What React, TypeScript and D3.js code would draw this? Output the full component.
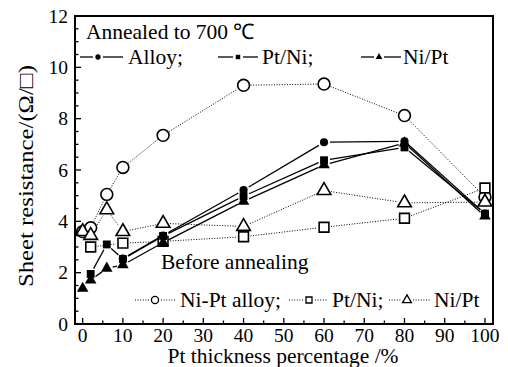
import React from 'react';
import * as d3 from 'd3';

// Before annealing (open markers, dotted lines)
const alloyBeforeX = [0, 2, 6, 10, 20, 40, 60, 80, 100];
const alloyBeforeY = [3.6, 3.75, 5.05, 6.1, 7.35, 9.3, 9.35, 8.12, 4.95];
const ptNiBeforeX = [2, 10, 20, 40, 60, 80, 100];
const ptNiBeforeY = [3.0, 3.15, 3.22, 3.4, 3.77, 4.12, 5.3];
const niPtBeforeX = [0, 2, 6, 10, 20, 40, 60, 80, 100];
const niPtBeforeY = [3.6, 3.45, 4.45, 3.6, 3.92, 3.8, 5.2, 4.72, 4.75];

// Annealed to 700 C (filled markers, solid lines)
const alloyAnnealX = [10, 20, 40, 60, 80, 100];
const alloyAnnealY = [2.55, 3.45, 5.22, 7.08, 7.12, 4.3];
const ptNiAnnealX = [2, 6, 10, 20, 40, 60, 80, 100];
const ptNiAnnealY = [1.95, 3.1, 2.53, 3.43, 4.98, 6.38, 6.88, 4.3];
const niPtAnnealX = [0, 2, 6, 10, 20, 40, 60, 80, 100];
const niPtAnnealY = [1.39, 1.71, 2.17, 2.3, 3.17, 4.78, 6.2, 7.05, 4.2];

const xTicks = [0, 10, 20, 30, 40, 50, 60, 70, 80, 90, 100];
const yTicks = [0, 2, 4, 6, 8, 10, 12];

const FONT = 'Liberation Serif';
const W = 508, H = 367;
const margin = { top: 16, right: 15, bottom: 43, left: 75 };

const x = d3.scaleLinear().domain([-1.9, 102]).range([margin.left, W - margin.right]);
const y = d3.scaleLinear().domain([0, 12]).range([H - margin.bottom, margin.top]);
const x0 = margin.left, x1 = W - margin.right, y0 = H - margin.bottom, y1 = margin.top;

const sym = (type: d3.SymbolType, size: number) => d3.symbol().type(type).size(size)()!;
const shapes = {
  circle: { open: sym(d3.symbolCircle, 110), filled: sym(d3.symbolCircle, 52), lOpen: sym(d3.symbolCircle, 40), lFilled: sym(d3.symbolCircle, 22) },
  square: { open: sym(d3.symbolSquare, 95), filled: sym(d3.symbolSquare, 62), lOpen: sym(d3.symbolSquare, 36), lFilled: sym(d3.symbolSquare, 20) },
  triangle: { open: sym(d3.symbolTriangle, 80), filled: sym(d3.symbolTriangle, 58), lOpen: sym(d3.symbolTriangle, 34), lFilled: sym(d3.symbolTriangle, 20) },
};

// line segments that stop short of the markers
const segments = (pts: [number, number][], gap: number) => {
  const out: [number, number, number, number][] = [];
  for (let i = 0; i < pts.length - 1; i++) {
    const [ax, ay] = pts[i], [bx, by] = pts[i + 1];
    const len = Math.hypot(bx - ax, by - ay);
    if (len <= 2 * gap + 1) continue;
    const ux = (bx - ax) / len, uy = (by - ay) / len;
    out.push([ax + ux * gap, ay + uy * gap, bx - ux * gap, by - uy * gap]);
  }
  return out;
};

const Series = ({ xs, ys, filled }: { xs: number[]; ys: number[]; filled: boolean }) => {
  const pts = xs.map((d, i) => [x(d), y(ys[i])] as [number, number]);
  return (
    <g>
      {segments(pts, filled ? 6 : 7).map((s, i) => (
        <line key={i} x1={s[0]} y1={s[1]} x2={s[2]} y2={s[3]} stroke="#000"
          strokeWidth={filled ? 1.3 : 1} strokeDasharray={filled ? undefined : '1,1.6'} />
      ))}
    </g>
  );
};

const Markers = ({ xs, ys, path, filled }: { xs: number[]; ys: number[]; path: string; filled: boolean }) => (
  <g>
    {xs.map((d, i) => (
      <path key={i} d={path} transform={`translate(${x(d)},${y(ys[i])})`}
        fill={filled ? '#000' : '#fff'} stroke="#000" strokeWidth={filled ? 0 : 1.6} />
    ))}
  </g>
);

const Label = (props: any) => (
  <text fontFamily={FONT} fontSize={21.5} fill="#000" {...props} />
);

const LegendItem = ({ lx0, lx1, mx, ly, path, filled, name, tx }:
  { lx0: number; lx1: number; mx: number; ly: number; path: string; filled: boolean; name: string; tx: number }) => {
  const gap = filled ? 5 : 6;
  return (
    <g>
      {[[lx0, mx - gap], [mx + gap, lx1]].map(([a, b], i) => (
        <line key={i} x1={a} x2={b} y1={ly} y2={ly} stroke="#000"
          strokeWidth={filled ? 1.3 : 1} strokeDasharray={filled ? undefined : '1,1.6'} />
      ))}
      <path d={path} transform={`translate(${mx},${ly})`} fill={filled ? '#000' : '#fff'}
        stroke="#000" strokeWidth={filled ? 0 : 1.3} />
      <Label x={tx} y={ly + 6.5}>{name}</Label>
    </g>
  );
};

const App = () => {
  const before = [
    { xs: alloyBeforeX, ys: alloyBeforeY, path: shapes.circle.open },
    { xs: ptNiBeforeX, ys: ptNiBeforeY, path: shapes.square.open },
    { xs: niPtBeforeX, ys: niPtBeforeY, path: shapes.triangle.open },
  ];
  const annealed = [
    { xs: alloyAnnealX, ys: alloyAnnealY, path: shapes.circle.filled },
    { xs: ptNiAnnealX, ys: ptNiAnnealY, path: shapes.square.filled },
    { xs: niPtAnnealX, ys: niPtAnnealY, path: shapes.triangle.filled },
  ];
  return (
    <svg width={W} height={H} style={{ position: 'absolute', left: 0, top: 0, background: '#fff' }}>
      {before.map((s, i) => <Series key={'bl' + i} xs={s.xs} ys={s.ys} filled={false} />)}
      {before.map((s, i) => <Markers key={'bm' + i} {...s} filled={false} />)}
      {annealed.map((s, i) => <Series key={'al' + i} xs={s.xs} ys={s.ys} filled />)}
      {annealed.map((s, i) => <Markers key={'am' + i} {...s} filled />)}

      {/* inward ticks */}
      <g stroke="#000" strokeWidth={1.3}>
        {d3.range(0, 101, 5).map(t => (
          <line key={'xt' + t} x1={x(t)} x2={x(t)} y1={y0} y2={y0 - (t % 10 === 0 ? 6 : 3.5)} />
        ))}
        {d3.range(0, 12.01, 0.5).map(t => (
          <line key={'yt' + t} y1={y(t)} y2={y(t)} x1={x0} x2={x0 + (t % 2 === 0 ? 6 : 3.5)} />
        ))}
      </g>
      <rect x={x0} y={y1} width={x1 - x0} height={y0 - y1} fill="none" stroke="#000" strokeWidth={2} />

      {xTicks.map(d => <Label key={'xl' + d} x={x(d)} y={342} fontSize={19.5} textAnchor="middle">{d}</Label>)}
      {yTicks.map(d => <Label key={'yl' + d} x={68} y={y(d) + 6.5} fontSize={19.5} textAnchor="end">{d}</Label>)}

      <Label x={283} y={363} textAnchor="middle">Pt thickness percentage /%</Label>
      <Label transform="translate(33,176) rotate(-90)" textAnchor="middle" fontSize={22}
        textLength={222} lengthAdjust="spacingAndGlyphs">Sheet resistance/(Ω/□)</Label>

      <Label x={86} y={39}>Annealed to 700 ℃</Label>
      <Label x={161} y={269}>Before annealing</Label>

      <LegendItem lx0={80} lx1={123} mx={98} ly={57} path={shapes.circle.lFilled} filled name="Alloy;" tx={128} />
      <LegendItem lx0={218} lx1={258} mx={238} ly={57} path={shapes.square.lFilled} filled name="Pt/Ni;" tx={262} />
      <LegendItem lx0={361} lx1={401} mx={379} ly={57} path={shapes.triangle.lFilled} filled name="Ni/Pt" tx={403} />

      <LegendItem lx0={135} lx1={176} mx={155} ly={300} path={shapes.circle.lOpen} filled={false} name="Ni-Pt alloy;" tx={180} />
      <LegendItem lx0={289} lx1={328} mx={309} ly={300} path={shapes.square.lOpen} filled={false} name="Pt/Ni;" tx={332} />
      <LegendItem lx0={389} lx1={430} mx={407} ly={300} path={shapes.triangle.lOpen} filled={false} name="Ni/Pt" tx={434} />
    </svg>
  );
};

export default App;
